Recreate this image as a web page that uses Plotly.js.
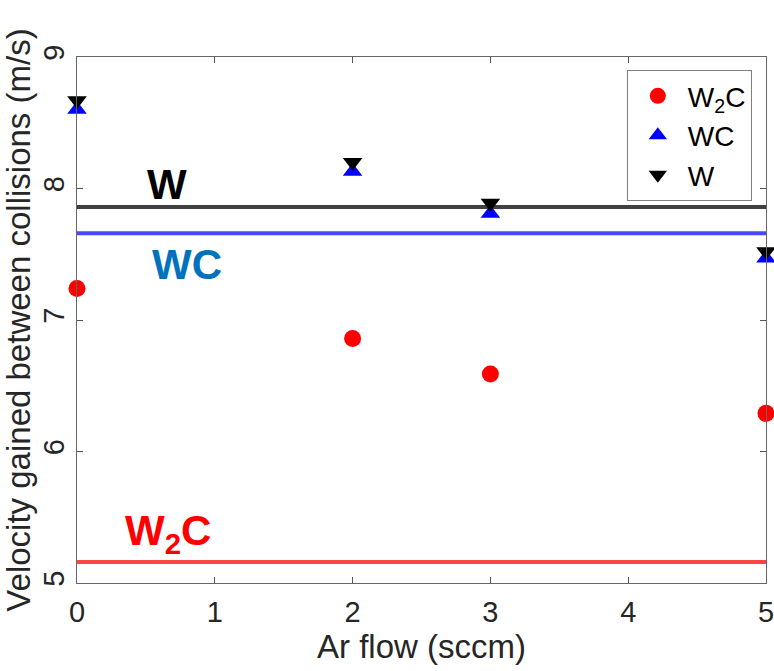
<!DOCTYPE html>
<html>
<head>
<meta charset="utf-8">
<script src="https://cdn.plot.ly/plotly-3.0.1.min.js"></script>
<style>html,body{margin:0;padding:0;background:#fff;}#chart{width:774px;height:671px;}</style>
</head>
<body>
<div id="chart"></div>
<script>
// Data
const arFlow = [0, 2, 3, 5];
const w2cVel = [7.24, 6.86, 6.59, 6.29];
const wcVel = [8.60, 8.13, 7.81, 7.47];
const wVel = [8.67, 8.20, 7.89, 7.52];
const levelNames = ['W', 'WC', 'W2C'];
const levelValues = [7.86, 7.66, 5.16];
const lineX = [0, 5];
const xTicks = [0, 1, 2, 3, 4, 5];
const yTicks = [5, 6, 7, 8, 9];

const FONT = 'Liberation Sans, Arial, Helvetica, sans-serif';
const levelColors = ['#404040', '#4848ff', '#ff4444'];

const traces = [];
levelValues.forEach((v, i) => {
  traces.push({
    x: lineX, y: [v, v], mode: 'lines', showlegend: false, hoverinfo: 'skip',
    line: {color: levelColors[i], width: 4}
  });
});
traces.push({x: arFlow, y: w2cVel, mode: 'markers', name: 'W<sub>2</sub>C', cliponaxis: false,
  marker: {symbol: 'circle', size: 17, color: '#ff0000'}});
traces.push({x: arFlow, y: wcVel, mode: 'markers', name: 'WC', cliponaxis: false,
  marker: {symbol: 'triangle-up', size: 17, color: '#0000ff'}});
traces.push({x: arFlow, y: wVel, mode: 'markers', name: 'W', cliponaxis: false,
  marker: {symbol: 'triangle-down', size: 17, color: '#000000'}});

const layout = {
  width: 774, height: 671,
  margin: {l: 77, r: 8, t: 57, b: 88},
  paper_bgcolor: '#fff', plot_bgcolor: '#fff',
  font: {family: FONT, size: 29, color: '#262626'},
  showlegend: true,
  legend: {x: 0.798, y: 0.975, xanchor: 'left', yanchor: 'top',
    bordercolor: '#808080', borderwidth: 1, bgcolor: '#fff',
    font: {family: FONT, size: 28, color: '#000'}, itemwidth: 50, tracegroupgap: 0},
  xaxis: {range: [0, 5], tickvals: xTicks, ticks: 'inside', ticklen: 6, tickcolor: '#555',
    ticklabeloverflow: 'allow', ticklabelstandoff: 3,
    showline: true, linecolor: '#666', linewidth: 1, mirror: 'ticks', showgrid: false, zeroline: false,
    tickfont: {family: FONT, size: 29, color: '#262626'},
    title: {text: 'Ar flow (sccm)', font: {family: FONT, size: 33, color: '#262626'}, standoff: 6}},
  yaxis: {range: [5, 9], tickvals: yTicks, ticks: 'inside', ticklen: 6, tickcolor: '#555', tickangle: -90,
    ticklabeloverflow: 'allow',
    showline: true, linecolor: '#666', linewidth: 1, mirror: 'ticks', showgrid: false, zeroline: false,
    tickfont: {family: FONT, size: 29, color: '#262626'},
    title: {text: 'Velocity gained between collisions (m/s)', font: {family: FONT, size: 33, color: '#262626'}, standoff: 5}},
  annotations: [
    {x: 0.65, y: 7.86, yanchor: 'bottom', yshift: -3, text: '<b>W</b>', showarrow: false,
      font: {family: FONT, size: 42, color: '#000'}},
    {x: 0.8, y: 7.66, yanchor: 'top', yshift: -6, text: '<b>WC</b>', showarrow: false,
      font: {family: FONT, size: 42, color: '#0072BD'}},
    {x: 0.66, y: 5.16, yanchor: 'bottom', yshift: 0, text: '<b>W<sub>2</sub>C</b>', showarrow: false,
      font: {family: FONT, size: 42, color: '#ff0000'}}
  ]
};

Plotly.newPlot('chart', traces, layout, {displayModeBar: false, staticPlot: true});
</script>
</body>
</html>
